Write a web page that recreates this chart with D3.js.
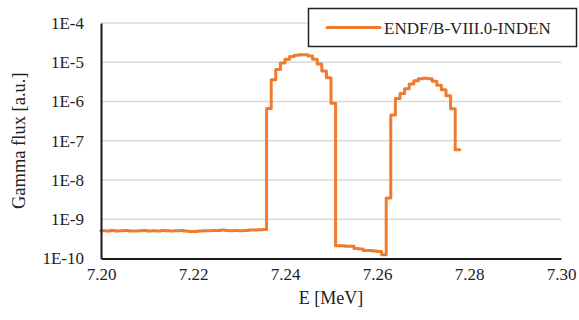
<!DOCTYPE html>
<html>
<head>
<meta charset="utf-8">
<script src="https://cdn.jsdelivr.net/npm/d3@7"></script>
<style>
  body { margin: 0; background: #fff; }
  svg, svg text { font-family: "Liberation Serif", "Times New Roman", serif !important; }
  svg { display: block; }
</style>
</head>
<body>
<div id="chart"></div>
<script>
// bin lower edges in MeV (last entry = upper edge of final bin)
const energy = [
  7.200, 7.201, 7.202, 7.203, 7.204, 7.205, 7.206, 7.207, 7.208, 7.209,
  7.210, 7.211, 7.212, 7.213, 7.214, 7.215, 7.216, 7.217, 7.218, 7.219,
  7.220, 7.221, 7.222, 7.223, 7.224, 7.225, 7.226, 7.227, 7.228, 7.229,
  7.230, 7.231, 7.232, 7.233, 7.234, 7.235, 7.236, 7.237, 7.238, 7.239,
  7.240, 7.241, 7.242, 7.243, 7.244, 7.245, 7.246, 7.247, 7.248, 7.249,
  7.250, 7.251, 7.252, 7.253, 7.254, 7.255, 7.256, 7.257, 7.258, 7.259,
  7.260, 7.261, 7.262, 7.263, 7.264, 7.265, 7.266, 7.267, 7.268, 7.269,
  7.270, 7.271, 7.272, 7.273, 7.274, 7.275, 7.276, 7.277, 7.278
];
// gamma flux per bin [a.u.]
const flux = [
  5.1e-10, 5.0e-10, 5.2e-10, 5.0e-10, 5.1e-10, 5.2e-10, 5.0e-10, 5.0e-10, 5.1e-10, 5.2e-10,
  5.0e-10, 5.1e-10, 5.0e-10, 5.2e-10, 5.1e-10, 5.0e-10, 5.1e-10, 5.2e-10, 5.0e-10, 4.9e-10,
  4.9e-10, 5.0e-10, 5.1e-10, 5.1e-10, 5.2e-10, 5.2e-10, 5.3e-10, 5.2e-10, 5.1e-10, 5.2e-10,
  5.1e-10, 5.2e-10, 5.3e-10, 5.3e-10, 5.4e-10, 5.5e-10,
  6.6e-7, 3.6e-6, 6.5e-6, 9.5e-6, 1.2e-5, 1.4e-5, 1.5e-5, 1.55e-5, 1.55e-5, 1.45e-5,
  1.2e-5, 9.0e-6, 6.0e-6, 4.0e-6, 9.0e-7,
  2.1e-10, 2.1e-10, 2.05e-10, 2.05e-10, 1.8e-10, 1.75e-10, 1.6e-10, 1.6e-10, 1.55e-10, 1.5e-10,
  1.25e-10,
  3.5e-9, 4.5e-7, 1.2e-6, 1.6e-6, 2.1e-6, 2.8e-6, 3.4e-6, 3.8e-6, 3.9e-6, 3.8e-6,
  3.3e-6, 2.6e-6, 2.0e-6, 1.4e-6, 6.5e-7, 5.9e-8
];
const xTicks = [7.20, 7.22, 7.24, 7.26, 7.28, 7.30];
const yTicks = [1e-10, 1e-9, 1e-8, 1e-7, 1e-6, 1e-5, 1e-4];
const yTickLabels = ["1E-10", "1E-9", "1E-8", "1E-7", "1E-6", "1E-5", "1E-4"];
const seriesName = "ENDF/B-VIII.0-INDEN";

const width = 579, height = 320;
const plotLeft = 101, plotRight = 561, plotTop = 23, plotBottom = 258.5;
const orange = "#EE7B2E";

const svg = d3.select("#chart").append("svg")
  .attr("width", width)
  .attr("height", height);

const x = d3.scaleLinear().domain([7.20, 7.30]).range([plotLeft, plotRight]);
const y = d3.scaleLog().domain([1e-10, 1e-4]).range([plotBottom, plotTop]);

// gridlines
svg.append("g")
  .selectAll("line")
  .data(yTicks.slice(1))
  .enter()
  .append("line")
  .attr("x1", plotLeft)
  .attr("x2", plotRight)
  .attr("y1", (d) => y(d))
  .attr("y2", (d) => y(d))
  .attr("stroke", "#d9d9d9")
  .attr("stroke-width", 1.3);

// step line
const pts = energy.map((e, i) => [e, i < flux.length ? flux[i] : flux[flux.length - 1]]);
const line = d3.line()
  .x((d) => x(d[0]))
  .y((d) => y(d[1]))
  .curve(d3.curveStepAfter);
svg.append("path")
  .datum(pts)
  .attr("d", line)
  .attr("fill", "none")
  .attr("stroke", orange)
  .attr("stroke-width", 3)
  .attr("stroke-linejoin", "round")
  .attr("stroke-linecap", "round");

// axes
const xAxis = d3.axisBottom(x).tickValues(xTicks).tickSize(0).tickPadding(9)
  .tickFormat(d3.format(".2f"));
const gx = svg.append("g")
  .attr("transform", `translate(0,${plotBottom})`)
  .call(xAxis);
gx.select(".domain").attr("stroke", "#1a1a1a").attr("stroke-width", 2);
gx.selectAll("text").attr("font-size", 17).attr("fill", "#222");

const yAxis = d3.axisLeft(y).tickValues(yTicks).tickSize(0).tickPadding(17)
  .tickFormat((d, i) => yTickLabels[i]);
const gy = svg.append("g")
  .attr("transform", `translate(${plotLeft},0)`)
  .call(yAxis);
gy.select(".domain").attr("stroke", "#1a1a1a").attr("stroke-width", 2);
gy.selectAll("text").attr("font-size", 17).attr("fill", "#222");

// axis titles
svg.append("text")
  .attr("x", (plotLeft + plotRight) / 2)
  .attr("y", 304)
  .attr("text-anchor", "middle")
  .attr("font-size", 18)
  .attr("fill", "#222")
  .text("E [MeV]");
svg.append("text")
  .attr("transform", `translate(25,${(plotTop + plotBottom) / 2}) rotate(-90)`)
  .attr("text-anchor", "middle")
  .attr("font-size", 18.5)
  .attr("fill", "#222")
  .text("Gamma flux [a.u.]");

// legend
const lg = svg.append("g");
lg.append("rect")
  .attr("x", 308.5)
  .attr("y", 8.5)
  .attr("width", 268)
  .attr("height", 38)
  .attr("fill", "#fff")
  .attr("stroke", "#222")
  .attr("stroke-width", 1.5);
lg.append("line")
  .attr("x1", 327)
  .attr("x2", 380)
  .attr("y1", 27.5)
  .attr("y2", 27.5)
  .attr("stroke", orange)
  .attr("stroke-width", 3)
  .attr("stroke-linecap", "round");
lg.append("text")
  .attr("x", 384)
  .attr("y", 33.5)
  .attr("font-size", 17)
  .attr("fill", "#222")
  .text(seriesName);
</script>
</body>
</html>
